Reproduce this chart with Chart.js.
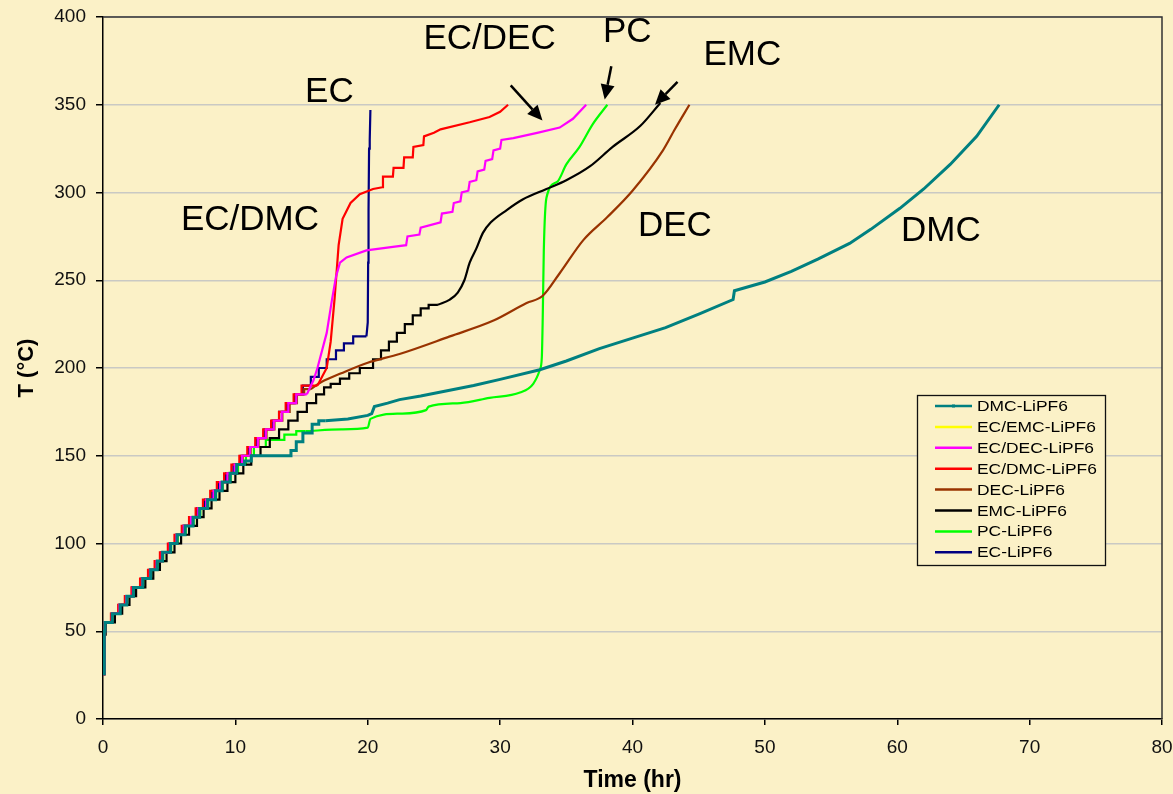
<!DOCTYPE html>
<html><head><meta charset="utf-8">
<script src="https://cdn.jsdelivr.net/npm/chart.js@4.4.1/dist/chart.umd.min.js"></script>
<style>html,body{margin:0;padding:0;background:#FBF1C7;}canvas{display:block;}</style>
</head><body>
<canvas id="c" width="1173" height="794"></canvas>
<script>
// ---------------- DATA ----------------
const seriesLabels = ['DMC-LiPF6','EC/EMC-LiPF6','EC/DEC-LiPF6','EC/DMC-LiPF6','DEC-LiPF6','EMC-LiPF6','PC-LiPF6','EC-LiPF6'];
const seriesColors = ['#008080','#FFFF00','#FF00FF','#FF0000','#993300','#000000','#00FF00','#000080'];

// DMC-LiPF6
const dmcStairs = [[0.1,25],[0.15,50],[0.7,55],[1.3,60],[1.8,65],[2.3,70],[3.0,75],[3.6,80],[4.1,85],[4.5,90],[5.1,95],[5.6,100],[6.2,105],[6.8,110],[7.3,115],[7.9,120],[8.5,125],[9.0,130],[9.6,135],[10.1,140],[10.7,145],[11.2,147],[14.2,150],[14.6,153],[15.1,158],[15.8,163],[16.3,168],[16.8,170]];
const dmcCurve = [[16.8,170],[18.5,171],[20.0,173],[20.3,174],[20.5,178],[21.5,180],[22.4,182],[24,184],[26,187],[28,190],[30,193.5],[33,199],[35,204],[37.5,211],[40,217],[42.5,223],[45.1,231],[47.6,239],[47.7,244],[50,249],[52,255],[54,262],[56.4,271],[58,279],[60.2,291],[62,302],[64,316],[66,332],[67.7,350]];
// EC/EMC-LiPF6 (not visible in the chart)
const ecemcStairs = [];
const ecemcCurve = [];
// EC/DEC-LiPF6
const ecdecStairs = [[0.1,25],[0.15,50],[0.68,55],[1.25,60],[1.75,65],[2.25,70],[2.95,75],[3.55,80],[4.05,85],[4.45,90],[5.05,95],[5.55,100],[6.1,105],[6.65,110],[7.2,115],[7.8,120],[8.35,125],[8.85,130],[9.4,135],[9.95,140],[10.5,145],[11.1,150],[11.7,155],[12.3,160],[12.9,165],[13.5,170],[14.0,175],[14.6,180],[15.1,185],[15.4,185]];
const ecdecCurve = [[15.4,185],[15.9,193],[16.2,200],[16.9,220],[17.3,239],[17.6,252],[17.9,260],[18.4,263],[19.9,267],[21.9,269],[22.9,270],[23.0,275],[23.9,276],[24.0,280],[25.5,283],[25.6,288],[26.4,289],[26.5,294],[27.0,295],[27.1,300],[27.6,301],[27.7,306],[28.2,307],[28.3,312],[28.8,313],[28.9,318],[29.4,319],[29.5,324],[30.0,325],[30.1,330],[31.0,331],[32.8,334],[34.5,337],[35.5,342],[36.5,350]];
// EC/DMC-LiPF6
const ecdmcStairs = [[0.1,25],[0.12,50],[0.6,55],[1.15,60],[1.65,65],[2.15,70],[2.8,75],[3.4,80],[3.9,85],[4.3,90],[4.9,95],[5.4,100],[5.95,105],[6.5,110],[7.0,115],[7.55,120],[8.1,125],[8.6,130],[9.15,135],[9.7,140],[10.3,145],[10.9,150],[11.5,155],[12.1,160],[12.7,165],[13.3,170],[13.8,175],[14.4,180],[15.0,185],[15.6,190],[16.2,190]];
const ecdmcCurve = [[16.2,190],[16.9,200],[17.2,215],[17.5,240],[17.8,270],[18.1,285],[18.7,294],[19.4,299],[20.4,302],[21.1,303],[21.15,309],[21.9,309],[21.95,314],[22.7,314],[22.75,320],[23.4,320],[23.45,326],[24.2,327],[24.25,332],[25.0,334],[25.5,336],[27.7,340],[29.2,343],[30.0,346],[30.6,350]];
// DEC-LiPF6
const decStairs = [[0.1,25],[0.15,50],[0.7,55],[1.27,60],[1.78,65],[2.28,70],[2.98,75],[3.58,80],[4.08,85],[4.5,90],[5.08,95],[5.58,100],[6.15,105],[6.7,110],[7.25,115],[7.85,120],[8.4,125],[8.9,130],[9.45,135],[10.0,140],[10.55,145],[11.15,150],[11.75,155],[12.35,160],[12.95,165],[13.55,170],[14.1,175],[14.65,180],[15.2,185],[15.7,188]];
const decCurve = [[15.7,188],[16.5,192],[18.0,197],[20.0,203],[22.4,208],[26.2,218],[29.5,227],[32.0,237],[33.2,241],[34.5,254],[36.3,273],[38.1,286],[40.0,301],[42.3,324],[43.2,336],[44.3,350]];
// EMC-LiPF6
const emcStairs = [[0.1,25],[0.2,48],[0.9,55],[1.45,60],[2.0,65],[2.5,70],[3.2,75],[3.8,80],[4.3,85],[4.8,90],[5.4,95],[5.9,100],[6.5,105],[7.1,110],[7.6,115],[8.2,120],[8.8,125],[9.4,130],[10.0,135],[10.6,140],[11.2,145],[11.9,150],[12.6,155],[13.3,160],[14.0,165],[14.7,170],[15.4,175],[16.1,180],[16.7,185],[17.2,189],[17.9,191],[18.6,194],[19.4,197],[20.4,200],[21.0,205],[21.6,210],[22.2,215],[22.8,220],[23.4,225],[24.0,230],[24.6,234],[25.3,236]];
const emcCurve = [[25.3,236],[26.2,239],[26.8,243],[27.3,250],[27.7,260],[28.2,268],[28.7,277],[29.3,283],[30.5,290],[31.7,296],[33.5,302],[35.0,307],[36.8,315],[38.5,326],[40.6,338],[42.1,351]];
// PC-LiPF6
const pcStairs = [[0.1,25],[0.15,50],[0.75,55],[1.32,60],[1.83,65],[2.35,70],[3.05,75],[3.65,80],[4.15,85],[4.55,90],[5.15,95],[5.65,100],[6.25,105],[6.85,110],[7.35,115],[7.95,120],[8.55,125],[9.05,130],[9.65,135],[10.2,140],[10.8,145],[11.4,150],[12.3,155],[13.7,159],[14.6,162],[15.3,164]];
const pcCurve = [[15.3,164],[18.0,165],[20.0,166],[20.2,171],[22.4,174],[24.4,176],[24.6,178],[27.0,180],[29.2,183],[31.5,186],[32.5,191],[33.0,199],[33.15,206],[33.22,229],[33.3,267],[33.5,297],[34.3,306],[35.0,316],[36.0,326],[37.0,339],[38.1,350]];
// EC-LiPF6
const ecStairs = [[0.1,25],[0.15,50],[0.65,55],[1.2,60],[1.7,65],[2.2,70],[2.9,75],[3.5,80],[4.0,85],[4.4,90],[5.0,95],[5.5,100],[6.05,105],[6.6,110],[7.1,115],[7.7,120],[8.25,125],[8.75,130],[9.3,135],[9.85,140],[10.4,145],[11.0,150],[11.6,155],[12.2,160],[12.8,165],[13.3,170],[13.9,175],[14.5,180],[15.1,185],[15.7,190],[16.3,195],[16.9,200],[17.6,205],[18.2,210],[18.9,214],[19.5,218],[19.9,218]];
const ecCurve = [[19.9,218],[20.0,226],[20.03,260],[20.06,290],[20.1,325],[20.15,330],[20.2,347]];

// Axis
const xMin = 0, xMax = 80, xStep = 10;
const yMin = 0, yMax = 400, yStep = 50;

// Annotations (data coordinates)
const noteLabels = ['EC/DEC','PC','EMC','EC','EC/DMC','DEC','DMC'];
const noteX = [29.2,39.6,48.3,17.1,11.1,43.2,63.3];
const noteY = [387,391,378,357,284,281,278];
const arrowFromX = [30.8,38.4,43.4];
const arrowFromY = [361,372,363];
const arrowToX = [33.2,37.9,41.7];
const arrowToY = [341,353,350];

// ---------------- CHART ----------------
const BG = '#FBF1C7';
const FONT = '"Liberation Sans", Arial, Helvetica, sans-serif';
Chart.defaults.font.family = FONT;

const stairsList = [dmcStairs, ecemcStairs, ecdecStairs, ecdmcStairs, decStairs, emcStairs, pcStairs, ecStairs];
const curveList = [dmcCurve, ecemcCurve, ecdecCurve, ecdmcCurve, decCurve, emcCurve, pcCurve, ecCurve];
const smoothCurve = [false, false, false, false, true, true, true, false];

const datasets = [];
seriesLabels.forEach((lab, i) => {
  const w = i === 0 ? 3 : 2.2;
  const ds = {label: lab, data: curveList[i], borderColor: seriesColors[i], backgroundColor: seriesColors[i],
    borderWidth: w, pointRadius: 0, tension: 0, fill: false, order: i};
  if (smoothCurve[i]) ds.cubicInterpolationMode = 'monotone';
  datasets.push(ds);
  datasets.push({label: lab + ' steps', data: stairsList[i], borderColor: seriesColors[i], backgroundColor: seriesColors[i],
    borderWidth: w, pointRadius: 0, stepped: 'after', fill: false, order: i});
});

const bgPlugin = {
  id: 'bg',
  beforeDraw(chart) {
    const ctx = chart.ctx;
    ctx.save(); ctx.fillStyle = BG; ctx.fillRect(0, 0, chart.width, chart.height); ctx.restore();
  }
};

const framePlugin = {
  id: 'frame',
  afterDraw(chart) {
    const ctx = chart.ctx, ca = chart.chartArea;
    ctx.save();
    ctx.strokeStyle = '#333'; ctx.lineWidth = 1.5;
    ctx.beginPath();
    ctx.moveTo(ca.left, ca.top); ctx.lineTo(ca.right, ca.top); ctx.lineTo(ca.right, ca.bottom);
    ctx.stroke();
    ctx.restore();
  }
};

const notesPlugin = {
  id: 'notes',
  afterDraw(chart) {
    const ctx = chart.ctx, xs = chart.scales.x, ys = chart.scales.y;
    ctx.save();
    ctx.fillStyle = '#000';
    ctx.font = '35px ' + FONT;
    ctx.textAlign = 'center'; ctx.textBaseline = 'middle';
    noteLabels.forEach((t, i) => ctx.fillText(t, xs.getPixelForValue(noteX[i]), ys.getPixelForValue(noteY[i])));
    ctx.strokeStyle = '#000'; ctx.lineWidth = 2.5;
    arrowFromX.forEach((fx, i) => {
      const x1 = xs.getPixelForValue(fx), y1 = ys.getPixelForValue(arrowFromY[i]);
      const x2 = xs.getPixelForValue(arrowToX[i]), y2 = ys.getPixelForValue(arrowToY[i]);
      const a = Math.atan2(y2 - y1, x2 - x1), L = 15, H = 7;
      const bx = x2 - L * Math.cos(a), by = y2 - L * Math.sin(a);
      ctx.beginPath(); ctx.moveTo(x1, y1); ctx.lineTo(bx, by); ctx.stroke();
      ctx.beginPath();
      ctx.moveTo(x2, y2);
      ctx.lineTo(bx + H * Math.sin(a), by - H * Math.cos(a));
      ctx.lineTo(bx - H * Math.sin(a), by + H * Math.cos(a));
      ctx.closePath(); ctx.fill();
    });
    ctx.restore();
  }
};

const legendPlugin = {
  id: 'boxLegend',
  afterDraw(chart) {
    const ctx = chart.ctx;
    const bx = 917, by = 395, bw = 188, bh = 170;
    ctx.save();
    ctx.fillStyle = BG; ctx.fillRect(bx, by, bw, bh);
    ctx.strokeStyle = '#111'; ctx.lineWidth = 1.3; ctx.strokeRect(bx + 0.5, by + 0.5, bw, bh);
    seriesLabels.forEach((lab, i) => {
      const y = by + 11 + i * 20.9;
      ctx.strokeStyle = seriesColors[i]; ctx.lineWidth = 2.5;
      ctx.beginPath(); ctx.moveTo(bx + 18, y); ctx.lineTo(bx + 55, y); ctx.stroke();
      if (i === 0) { ctx.fillStyle = seriesColors[0]; ctx.fillRect(bx + 35, y - 1.5, 3, 3); }
      ctx.save();
      ctx.translate(bx + 60, y + 1);
      ctx.scale(1.2, 1);
      ctx.fillStyle = '#000'; ctx.font = '14.5px ' + FONT; ctx.textBaseline = 'middle'; ctx.textAlign = 'left';
      ctx.fillText(lab, 0, 0);
      ctx.restore();
    });
    ctx.restore();
  }
};

new Chart(document.getElementById('c'), {
  type: 'line',
  data: { datasets },
  options: {
    responsive: false, animation: false, devicePixelRatio: 1,
    layout: { padding: { top: 17, right: 11, left: 0, bottom: 0 } },
    plugins: { legend: { display: false }, tooltip: { enabled: false } },
    scales: {
      x: {
        type: 'linear', min: xMin, max: xMax,
        ticks: { stepSize: xStep, color: '#111', font: { size: 19 }, padding: 11, maxRotation: 0 },
        grid: { drawOnChartArea: false, drawTicks: true, tickLength: 6, tickColor: '#000', lineWidth: 1.5 },
        border: { display: true, color: '#000', width: 1.5 },
        title: { display: true, text: 'Time (hr)', color: '#000', font: { size: 23, weight: 'bold' }, padding: { top: 0, bottom: 0 } },
        afterFit(s) { s.height = 75; s.paddingLeft = 0; s.paddingRight = 0; }
      },
      y: {
        type: 'linear', min: yMin, max: yMax,
        ticks: { stepSize: yStep, color: '#111', font: { size: 19 }, padding: 10 },
        grid: { color: '#C9C9C4', lineWidth: 1.5, drawTicks: true, tickLength: 7, tickColor: '#000' },
        border: { display: true, color: '#000', width: 1.5 },
        title: { display: true, text: 'T (°C)', color: '#000', font: { size: 22, weight: 'bold' }, padding: { top: 14, bottom: 0 } },
        afterFit(s) { s.width = 103; s.paddingTop = 0; s.paddingBottom = 0; }
      }
    }
  },
  plugins: [bgPlugin, framePlugin, notesPlugin, legendPlugin]
});
</script>
</body></html>
